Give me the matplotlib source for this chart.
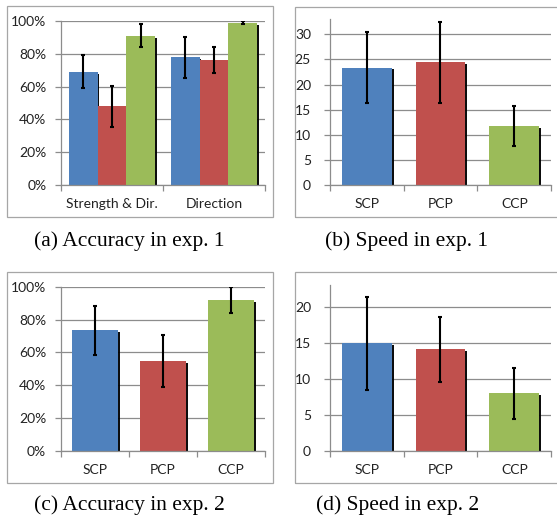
import numpy as np
import matplotlib
matplotlib.use("Agg")
import matplotlib.pyplot as plt
import matplotlib.patheffects as pe
from matplotlib.patches import Rectangle

# data
groups_a = ["Strength & Dir.", "Direction"]
acc1_scp = [0.69, 0.78]
acc1_pcp = [0.48, 0.76]
acc1_ccp = [0.91, 0.99]
acc1_scp_err = [0.10, 0.125]
acc1_pcp_err = [0.125, 0.08]
acc1_ccp_err = [0.07, 0.01]

methods = ["SCP", "PCP", "CCP"]
speed1 = [23.4, 24.4, 11.7]
speed1_err = [7.0, 8.0, 4.0]
acc2 = [0.734, 0.548, 0.917]
acc2_err = [0.15, 0.16, 0.08]
speed2 = [14.9, 14.1, 8.0]
speed2_err = [6.5, 4.5, 3.5]

pct_ticks = [0, 0.2, 0.4, 0.6, 0.8, 1.0]
pct_labels = ["0%", "20%", "40%", "60%", "80%", "100%"]
speed1_ticks = [0, 5, 10, 15, 20, 25, 30]
speed2_ticks = [0, 5, 10, 15, 20]

captions = ["(a) Accuracy in exp. 1", "(b) Speed in exp. 1",
            "(c) Accuracy in exp. 2", "(d) Speed in exp. 2"]

BLUE, RED, GREEN = "#4F81BD", "#C0504D", "#9BBB59"
GRID = "#8C8C8C"
W, H = 557, 523

fig = plt.figure(figsize=(W / 100, H / 100), dpi=100)


def px_rect(x0, y0, x1, y1):
    return [x0 / W, 1 - y1 / H, (x1 - x0) / W, (y1 - y0) / H]


def frame(x0, y0, x1, y1):
    fig.patches.append(Rectangle((x0 / W, 1 - y1 / H), (x1 - x0) / W, (y1 - y0) / H,
                                 transform=fig.transFigure, fill=False,
                                 edgecolor="#A6A6A6", linewidth=0.9))


shadow = [pe.SimplePatchShadow(offset=(1.4, -1.4), shadow_rgbFace="black", alpha=0.95),
          pe.Normal()]


def style_axes(ax, ncat, ylim, ticks, labels, ypad):
    ax.set_xlim(-0.5, ncat - 0.5)
    ax.set_ylim(*ylim)
    ax.set_yticks(ticks)
    ax.set_yticklabels(labels)
    ax.yaxis.grid(True, color=GRID, linewidth=0.9)
    ax.set_axisbelow(True)
    for s in ["top", "right"]:
        ax.spines[s].set_visible(False)
    for s in ["left", "bottom"]:
        ax.spines[s].set_color(GRID)
        ax.spines[s].set_linewidth(0.9)
    ax.set_xticks(np.arange(-0.5, ncat), minor=True)
    ax.tick_params(axis="x", which="major", length=0, pad=9)
    ax.tick_params(axis="x", which="minor", length=4, color=GRID, width=0.9)
    ax.tick_params(axis="y", length=4, color=GRID, width=0.9, pad=ypad)
    for lab in ax.get_xticklabels() + ax.get_yticklabels():
        lab.set_fontfamily("Lato")
        lab.set_fontsize(10)
        lab.set_color("#222222")


def bars(ax, x, vals, errs, color, width):
    ax.bar(x, vals, width, color=color, zorder=2, path_effects=shadow)
    ax.errorbar(x, vals, yerr=errs, fmt="none", ecolor="black", elinewidth=1.5,
                capsize=1.6, capthick=1.5, zorder=3)


# (a) accuracy exp 1
frame(7.3, 6, 273.3, 217.3)
ax = fig.add_axes(px_rect(61, 21, 265, 185))
xg = np.arange(len(groups_a))
bw = 0.284
bars(ax, xg - bw, acc1_scp, acc1_scp_err, BLUE, bw)
bars(ax, xg, acc1_pcp, acc1_pcp_err, RED, bw)
bars(ax, xg + bw, acc1_ccp, acc1_ccp_err, GREEN, bw)
ax.set_xticks(xg)
ax.set_xticklabels(groups_a)
style_axes(ax, 2, (0, 1.0), pct_ticks, pct_labels, 6.5)

# (b) speed exp 1
frame(295, 7, 560, 217.3)
ax = fig.add_axes(px_rect(329.7, 19.3, 551.3, 185))
xm = np.arange(len(methods))
for i, c in enumerate([BLUE, RED, GREEN]):
    bars(ax, xm[i], speed1[i], speed1_err[i], c, 0.676)
ax.set_xticks(xm)
ax.set_xticklabels(methods)
style_axes(ax, 3, (0, 33), speed1_ticks, [str(t) for t in speed1_ticks], 9.5)

# (c) accuracy exp 2
frame(7.3, 272, 273.3, 483.3)
ax = fig.add_axes(px_rect(60.7, 286.7, 265, 451))
for i, c in enumerate([BLUE, RED, GREEN]):
    bars(ax, xm[i], acc2[i], acc2_err[i], c, 0.676)
ax.set_xticks(xm)
ax.set_xticklabels(methods)
style_axes(ax, 3, (0, 1.0), pct_ticks, pct_labels, 6.5)

# (d) speed exp 2
frame(295, 272, 560, 483.3)
ax = fig.add_axes(px_rect(329.7, 285, 551.3, 451))
for i, c in enumerate([BLUE, RED, GREEN]):
    bars(ax, xm[i], speed2[i], speed2_err[i], c, 0.676)
ax.set_xticks(xm)
ax.set_xticklabels(methods)
style_axes(ax, 3, (0, 23), speed2_ticks, [str(t) for t in speed2_ticks], 9.5)

# captions
cap_pos = [(129.5, 246), (406.5, 246), (129, 510), (397.5, 510)]
for txt, (cx, cy) in zip(captions, cap_pos):
    fig.text(cx / W, 1 - cy / H, txt, ha="center", va="baseline",
             fontfamily=["Liberation Serif", "DejaVu Serif"], fontsize=15.5)

fig.savefig("out.png", dpi=100)
